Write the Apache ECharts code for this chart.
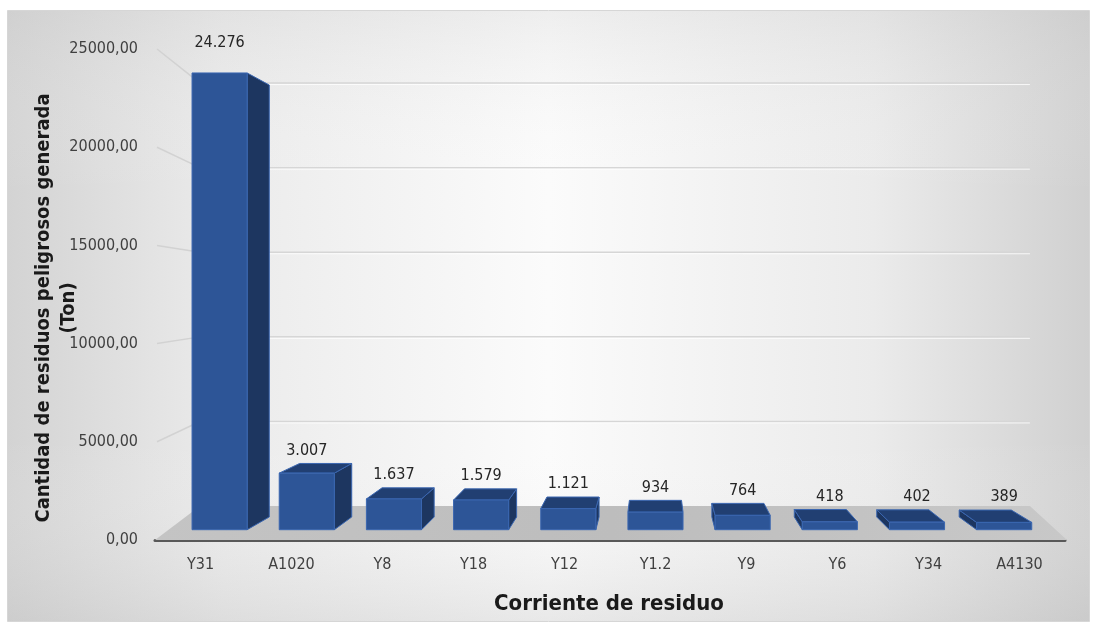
<!DOCTYPE html>
<html>
<head>
<meta charset="utf-8">
<script src="https://cdn.jsdelivr.net/npm/echarts@6/dist/echarts.min.js"></script>
<style>html,body{margin:0;padding:0;background:#fff}#chart{width:1097px;height:635px}</style>
</head>
<body>
<div id="chart"></div>
<script>
// ---- data ----
const categories = ['Y31','A1020','Y8','Y18','Y12','Y1.2','Y9','Y6','Y34','A4130'];
const values = [24276, 3007, 1637, 1579, 1121, 934, 764, 418, 402, 389];
const yTicks = [0, 5000, 10000, 15000, 20000, 25000];
const yAxisTitle = 'Cantidad de residuos peligrosos generada\n(Ton)';
const xAxisTitle = 'Corriente de residuo';

// ---- view constants (pseudo 3D perspective) ----
const VP = {x: 655, y: 295};
const S_FRONT = 0.958, S_BACK = 0.906;      // bar front/back depth scale
const WALL_SX = 0.91, WALL_SY = 0.8615;     // back wall / floor back edge
const BAR_HALF = 0.316;                      // half bar width as fraction of band
const FONT = "'DejaVu Sans Condensed','Liberation Sans Narrow','Arial Narrow',sans-serif";

function proj(x, y, s) { return [VP.x + (x - VP.x) * s, VP.y + (y - VP.y) * s]; }
function wall(x, y) { return [VP.x + (x - VP.x) * WALL_SX, VP.y + (y - VP.y) * WALL_SY]; }
function fmtThousands(v) { return String(v).replace(/\B(?=(\d{3})+(?!\d))/g, '.'); }

const chart = echarts.init(document.getElementById('chart'), null, {renderer: 'canvas'});

const option = {
  backgroundColor: '#ffffff',
  animation: false,
  grid: {left: 155, top: 49, width: 910, height: 491},
  xAxis: {
    type: 'category', data: categories, boundaryGap: true,
    axisLine: {show: true, lineStyle: {color: '#595959', width: 3}},
    axisTick: {show: false},
    axisLabel: {fontFamily: FONT, fontSize: 16, color: '#404040', margin: 17},
    splitLine: {show: false}
  },
  yAxis: {
    type: 'value', min: 0, max: 25000, interval: 5000,
    axisLine: {show: false}, axisTick: {show: false}, splitLine: {show: false},
    axisLabel: {fontFamily: FONT, fontSize: 16, color: '#404040', margin: 17,
      formatter: v => v.toFixed(2).replace('.', ',')}
  },
  graphic: [
    {type: 'rect', z: -10, silent: true,
      shape: {x: 7.5, y: 10.5, width: 1082, height: 611},
      style: {
        fill: {type: 'linear', x: 0, y: 0, x2: 1, y2: 0,
          colorStops: [{offset: 0, color: '#d3d3d3'}, {offset: 0.2, color: '#ebebeb'},
                       {offset: 0.5, color: '#fbfbfb'}, {offset: 0.8, color: '#ebebeb'}, {offset: 1, color: '#d0d0d0'}]},
        stroke: '#d6d6d6', lineWidth: 1}},
    {type: 'rect', z: -9, silent: true,
      shape: {x: 8, y: 11, width: 1081, height: 610},
      style: {
        fill: {type: 'linear', x: 0, y: 0, x2: 0, y2: 1,
          colorStops: [{offset: 0, color: 'rgba(200,200,200,0.25)'}, {offset: 0.3, color: 'rgba(255,255,255,0)'},
                       {offset: 0.7, color: 'rgba(255,255,255,0)'}, {offset: 1, color: 'rgba(190,190,190,0.3)'}]}}},
    {type: 'text', z: 100, x: 56, y: 308, rotation: Math.PI / 2,
      style: {text: yAxisTitle, fontFamily: FONT, fontWeight: 'bold', fontSize: 20, fill: '#1a1a1a',
        align: 'center', verticalAlign: 'middle', lineHeight: 25}},
    {type: 'text', z: 100, x: 609, y: 604,
      style: {text: xAxisTitle, fontFamily: FONT, fontWeight: 'bold', fontSize: 22, fill: '#1a1a1a',
        align: 'center', verticalAlign: 'middle'}}
  ],
  series: [
    {
      // floor, back wall gridlines, left wall connectors
      type: 'custom', z: 1, clip: false, silent: true,
      data: yTicks.map(v => [0, v]),
      renderItem: function (params, api) {
        const bw = api.size([1, 0])[0];
        const xL = api.coord([0, 0])[0] - bw / 2;
        const xR = api.coord([categories.length - 1, 0])[0] + bw / 2 + 2;
        const y0 = api.coord([0, 0])[1];
        const v = api.value(1);
        const yv = api.coord([0, v])[1];
        const children = [];
        if (params.dataIndex === 0) {
          const bl = wall(xL, y0), br = wall(xR, y0);
          children.push({type: 'polygon', shape: {points: [[xL, y0], [xR, y0], br, bl]},
            style: {fill: {type: 'linear', x: 0, y: 0, x2: 1, y2: 0,
              colorStops: [{offset: 0, color: '#c4c4c4'}, {offset: 0.5, color: '#bdbdbd'}, {offset: 1, color: '#c8c8c8'}]}}});
        } else {
          const a = wall(xL, yv), b = wall(xR, yv);
          children.push({type: 'line', shape: {x1: xL + 2, y1: yv, x2: a[0], y2: a[1]},
            style: {stroke: '#d2d2d2', lineWidth: 1.5}});
          children.push({type: 'line', shape: {x1: a[0], y1: a[1], x2: b[0], y2: b[1]},
            style: {stroke: '#d6d6d6', lineWidth: 1.5}});
          children.push({type: 'line', shape: {x1: a[0], y1: a[1] + 1.5, x2: b[0], y2: b[1] + 1.5},
            style: {stroke: 'rgba(255,255,255,0.8)', lineWidth: 1}});
        }
        return {type: 'group', children: children};
      }
    },
    {
      // 3D-looking bars
      type: 'custom', z: 2, clip: false,
      data: values.map((v, i) => [i, v]),
      renderItem: function (params, api) {
        const i = api.value(0), v = api.value(1);
        const c0 = api.coord([i, 0]), c1 = api.coord([i, v]);
        const hw = api.size([1, 0])[0] * BAR_HALF;
        const xl = c0[0] - hw, xr = c0[0] + hw, yb = c0[1], yt = c1[1];
        const fTL = proj(xl, yt, S_FRONT), fTR = proj(xr, yt, S_FRONT),
              fBR = proj(xr, yb, S_FRONT), fBL = proj(xl, yb, S_FRONT);
        const bTL = proj(xl, yt, S_BACK), bTR = proj(xr, yt, S_BACK),
              bBR = proj(xr, yb, S_BACK), bBL = proj(xl, yb, S_BACK);
        const edge = {stroke: '#3a66b0', lineWidth: 1, lineJoin: 'round'};
        const children = [];
        if (xr < VP.x) children.push({type: 'polygon', shape: {points: [fTR, bTR, bBR, fBR]},
          style: Object.assign({fill: '#1d3660'}, edge)});
        if (xl > VP.x) children.push({type: 'polygon', shape: {points: [fTL, bTL, bBL, fBL]},
          style: Object.assign({fill: '#1d3660'}, edge)});
        if (yt > VP.y) children.push({type: 'polygon', shape: {points: [fTL, fTR, bTR, bTL]},
          style: Object.assign({fill: '#213f72'}, edge)});
        children.push({type: 'polygon', shape: {points: [fTL, fTR, fBR, fBL]},
          style: Object.assign({fill: '#2d5597'}, edge)});
        const topMost = Math.min(fTL[1], bTL[1]);
        const off = 13 + Math.max(0, VP.y - fTL[1]) * 0.077;
        children.push({type: 'text', z2: 10, style: {
          text: fmtThousands(v), x: (fTL[0] + fTR[0]) / 2, y: topMost - off,
          align: 'center', verticalAlign: 'middle',
          fontFamily: FONT, fontSize: 16, fill: '#262626'}});
        return {type: 'group', children: children};
      }
    }
  ]
};
chart.setOption(option);
</script>
</body>
</html>
